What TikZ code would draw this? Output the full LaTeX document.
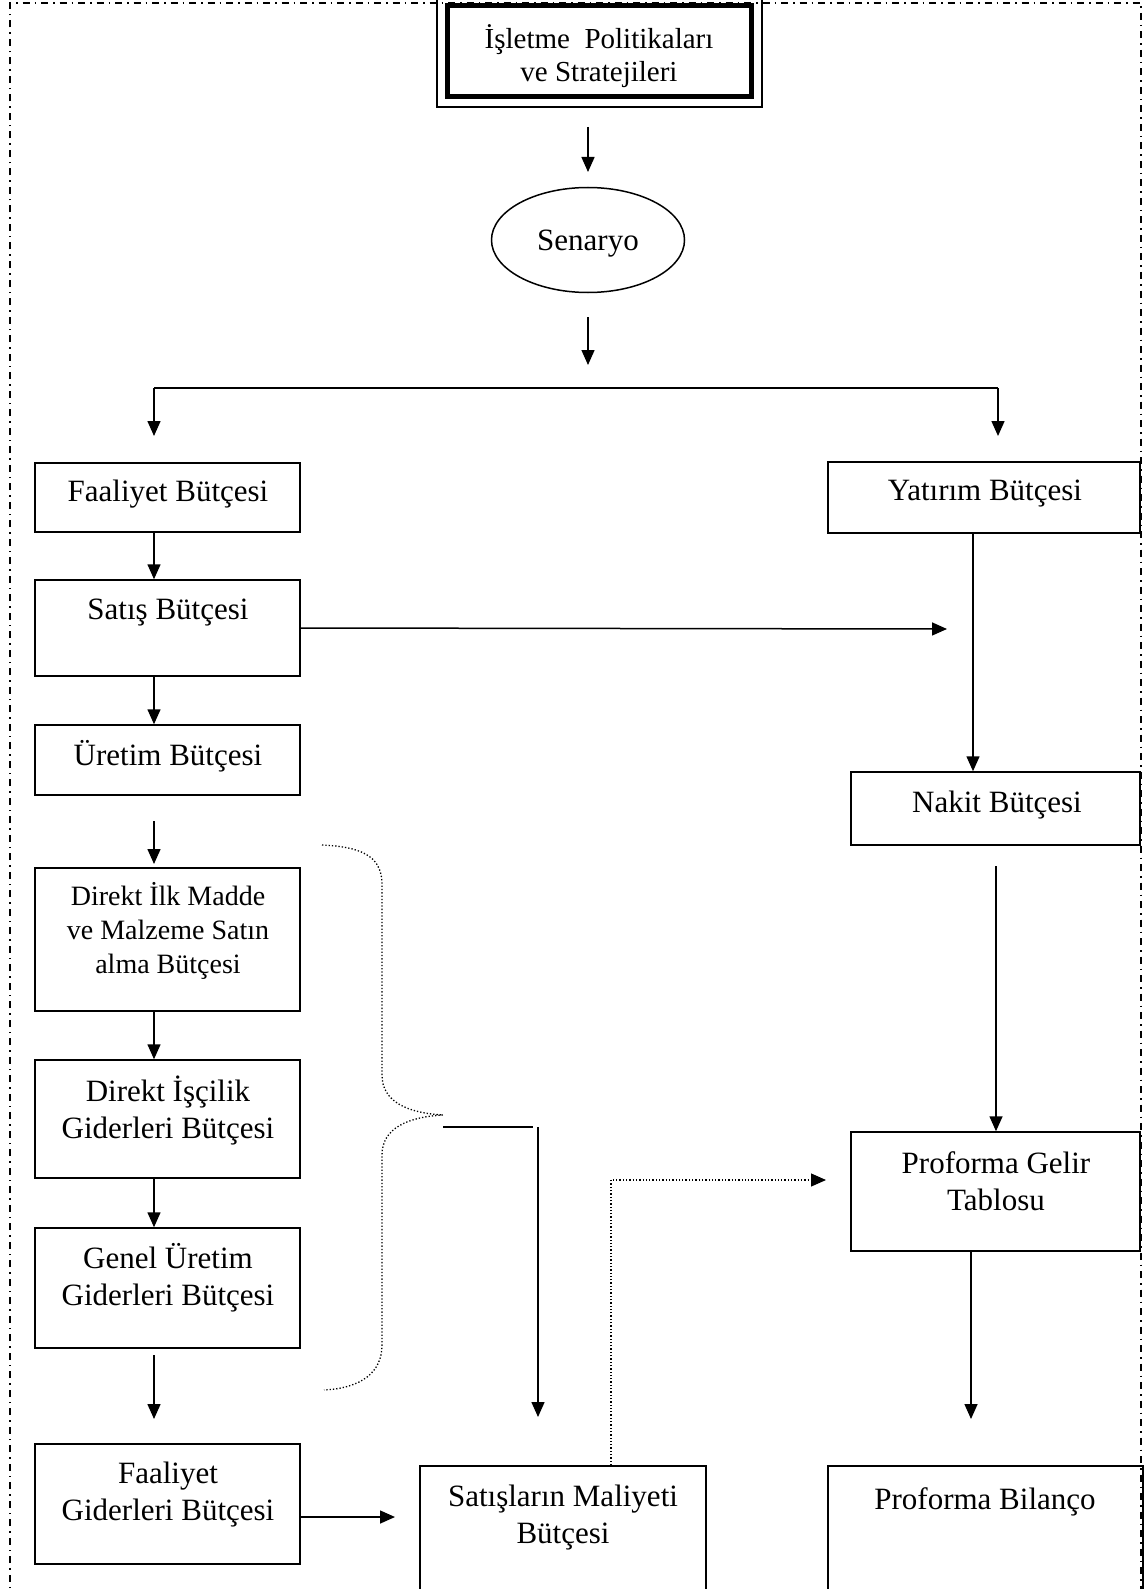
\documentclass[tikz,border=0pt]{standalone}
\usepackage{fontspec}
\setmainfont{Liberation Serif}
\usetikzlibrary{arrows.meta,shapes.geometric}
\tikzset{
  box/.style={draw,line width=1.5pt,inner sep=0pt},
  txt/.style={align=center,inner sep=0pt,font=\fontsize{31}{37}\selectfont},
  arr/.style={line width=1.5pt,-{Triangle[length=15pt,width=13pt]}},
  ln/.style={line width=1.5pt},
  dotln/.style={line width=1.3pt,dotted},
  border/.style={line width=1.6pt,dash pattern=on 7pt off 5pt on 1.5pt off 5pt}
}
\newcommand\mybox[5]{\node[box,minimum width={(#4-#2)*1pt},minimum height={(#5-#3)*1pt}] (#1) at ({(#2+#4)/2},{(#3+#5)/2}) {};}
\begin{document}
\begin{tikzpicture}[x=1pt,y=-1pt]
\useasboundingbox (0,0) rectangle (1147,1589);
% page border (dash-dot)
\draw[border] (10,1600) -- (10,3) -- (1141,3) -- (1141,1600);
% top box
\draw[line width=1.5pt] (437,-1) rectangle (762,107);
\node[draw,line width=5pt,minimum width=304pt,minimum height=91pt,inner sep=0pt,fill=white] (top) at (599.5,51) {};
\node[txt,font=\fontsize{29}{33}\selectfont] (ttop) at (599,56) {İşletme\ \ Politikaları\\ve Stratejileri};
% scenario
\coordinate (a1s) at (588,127); \coordinate (a1e) at (588,172);
\draw[arr] (a1s) -- (a1e);
\node[draw,ellipse,line width=1.5pt,minimum width=193pt,minimum height=105pt,inner sep=0pt] (sen) at (588,240) {};
\node[txt] (tsen) at (588,244) {Senaryo};
\coordinate (a2s) at (588,317); \coordinate (a2e) at (588,365);
\draw[arr] (a2s) -- (a2e);
% split
\coordinate (sl) at (154,388); \coordinate (sr) at (998,388);
\coordinate (slb) at (154,436); \coordinate (srb) at (998,436);
\draw[ln] (sl) -- (sr);
\draw[arr] (sl) -- (slb);
\draw[arr] (sr) -- (srb);
% left column boxes
\mybox{faal}{35}{463}{300}{532}
\node[txt] (tfaal) at (168,494) {Faaliyet Bütçesi};
\mybox{satis}{35}{580}{300}{676}
\node[txt] (tsatis) at (168,613) {Satış Bütçesi};
\mybox{uret}{35}{725}{300}{795}
\node[txt] (turet) at (168,756) {Üretim Bütçesi};
\mybox{dilk}{35}{868}{300}{1011}
\node[txt,font=\fontsize{28}{34}\selectfont] (tdilk) at (168,931) {Direkt İlk Madde\\ve Malzeme Satın\\alma Bütçesi};
\mybox{disc}{35}{1060}{300}{1178}
\node[txt] (tdisc) at (168,1110) {Direkt İşçilik\\Giderleri Bütçesi};
\mybox{genel}{35}{1228}{300}{1348}
\node[txt] (tgenel) at (168,1278) {Genel Üretim\\Giderleri Bütçesi};
\mybox{fgid}{35}{1444}{300}{1564}
\node[txt] (tfgid) at (168,1495) {Faaliyet\\Giderleri Bütçesi};
% right column boxes
\mybox{yat}{828}{462}{1140}{533}
\node[txt] (tyat) at (985,494) {Yatırım Bütçesi};
\mybox{nakit}{851}{772}{1140}{845}
\node[txt] (tnakit) at (997,805) {Nakit Bütçesi};
\mybox{gelir}{851}{1132}{1140}{1251}
\node[txt] (tgelir) at (996,1181) {Proforma Gelir\\Tablosu};
\mybox{bil}{828}{1466}{1143}{1620}
\node[txt] (tbil) at (985,1502) {Proforma Bilanço};
\mybox{smal}{420}{1466}{706}{1620}
\node[txt] (tsmal) at (563,1518) {Satışların Maliyeti\\Bütçesi};
% left column arrows
\draw[arr] ([xshift=-13.5pt]faal.south) -- ([xshift=-13.5pt]satis.north);
\draw[arr] ([xshift=-13.5pt]satis.south) -- ([xshift=-13.5pt]uret.north);
\coordinate (a3s) at (154,821); \coordinate (a3e) at (154,864);
\draw[arr] (a3s) -- (a3e);
\draw[arr] ([xshift=-13.5pt]dilk.south) -- ([xshift=-13.5pt]disc.north);
\draw[arr] ([xshift=-13.5pt]disc.south) -- ([xshift=-13.5pt]genel.north);
\coordinate (a4s) at (154,1355); \coordinate (a4e) at (154,1419);
\draw[arr] (a4s) -- (a4e);
\coordinate (fge) at (300,1517); \coordinate (fgt) at (395,1517);
\draw[arr] (fge) -- (fgt);
% satis -> right
\coordinate (st) at (947,629);
\draw[arr] (satis.east) -- (st);
% yatirim -> nakit
\coordinate (yn) at (973,650);
\draw[arr] (yat.south -| yn) -- (nakit.north -| yn);
% nakit -> gelir
\coordinate (nk) at (996,866);
\draw[arr] (nk) -- (gelir.north -| nk);
% gelir -> bilanco
\coordinate (gb) at (971,1419);
\draw[arr] (gelir.south -| gb) -- (gb);
% brace
\draw[dotln] (322,845) .. controls (368,847) and (382,860) .. (382,885)
  -- (382,1075) .. controls (382,1102) and (408,1113) .. (443,1115)
  .. controls (408,1117) and (382,1128) .. (382,1155)
  -- (382,1345) .. controls (382,1372) and (362,1388) .. (324,1390);
\coordinate (bl1) at (443,1127); \coordinate (bl2) at (533,1127);
\draw[ln] (bl1) -- (bl2);
\coordinate (bv1) at (538,1127); \coordinate (bv2) at (538,1417);
\draw[arr] (bv1) -- (bv2);
% dotted arrow smal -> gelir
\coordinate (dc) at (611,1180); \coordinate (de) at (826,1180);
\draw[dotln,-{Triangle[length=15pt,width=13pt]}] (smal.north -| dc) -- (dc) -- (de);
\end{tikzpicture}
\end{document}
